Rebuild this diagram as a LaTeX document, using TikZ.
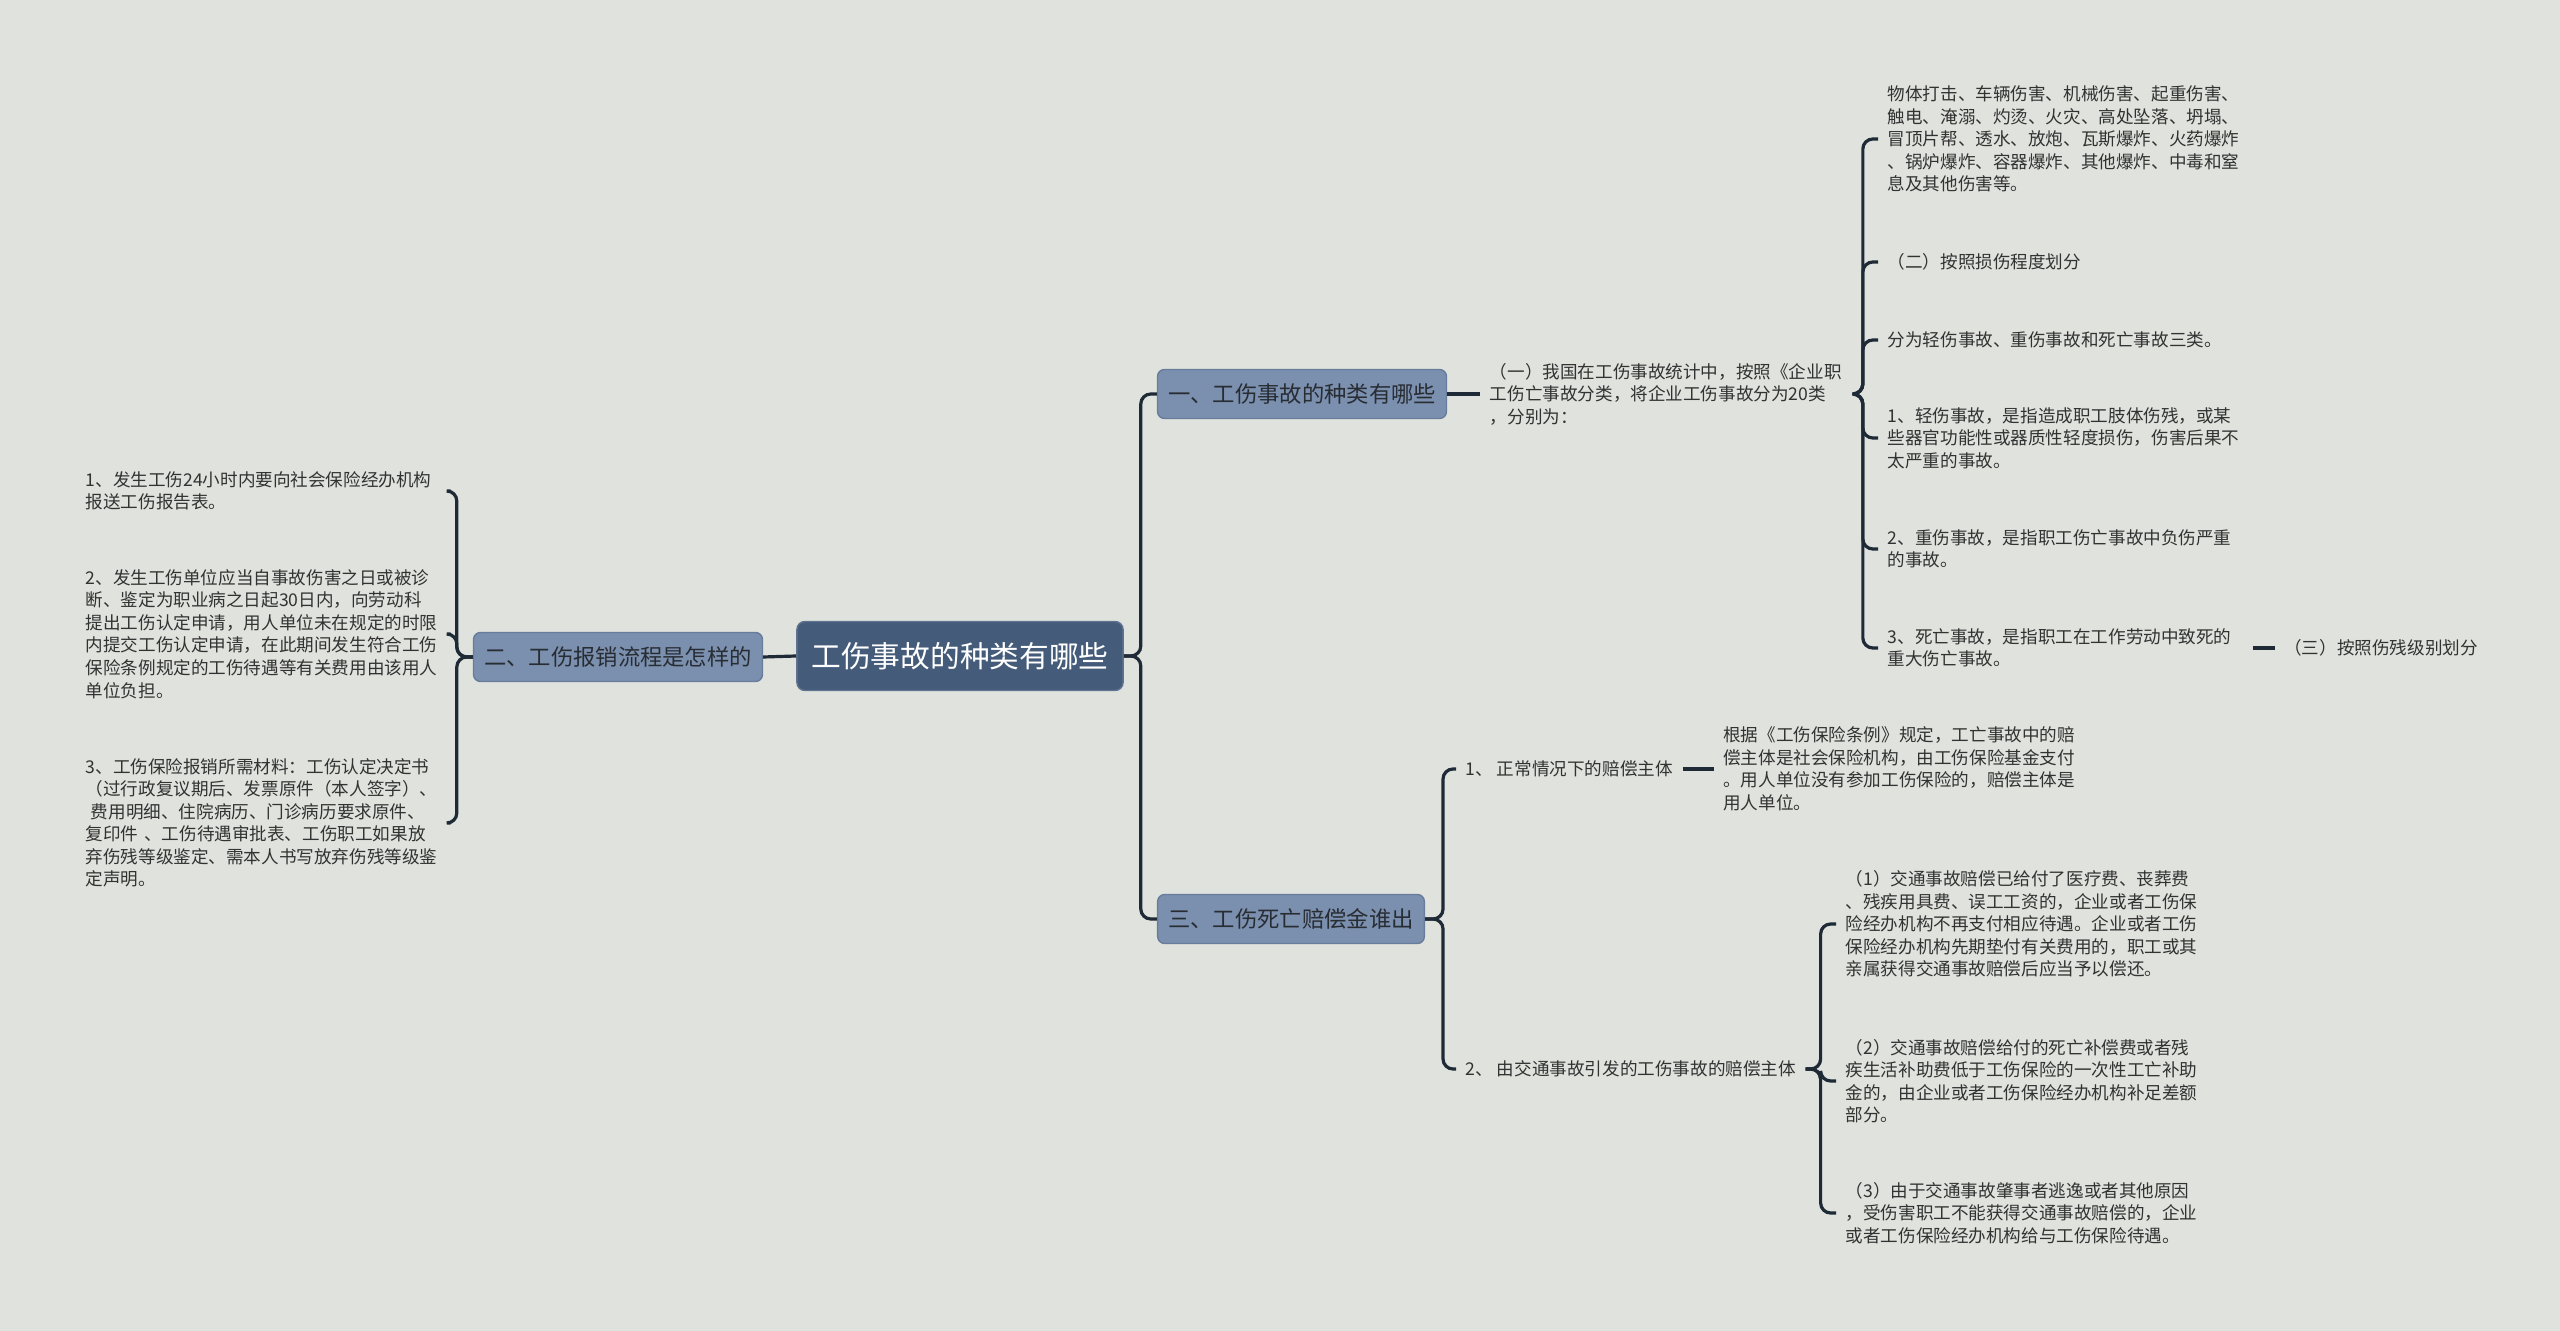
\documentclass[tikz,border=0pt]{standalone}
\usepackage{fontspec}
\setmainfont{Noto Sans CJK SC}
\usepackage{tikz}
\usetikzlibrary{positioning}

\definecolor{bgcol}{RGB}{224,226,221}
\definecolor{rootfill}{RGB}{68,91,122}
\definecolor{rootline}{RGB}{96,116,146}
\definecolor{branchfill}{RGB}{123,143,174}
\definecolor{branchline}{RGB}{104,124,156}
\definecolor{branchtext}{RGB}{40,45,52}
\definecolor{leaftext}{RGB}{50,50,50}
\definecolor{linecol}{RGB}{30,42,54}

\begin{document}
\begin{tikzpicture}[x=0.01cm, y=-0.01cm,
    topic/.style={draw=rootline, fill=rootfill, rounded corners=0.08cm, text=white, inner xsep=0.145cm, minimum height=0.69cm, font=\fontsize{8.45}{10}\selectfont},
    branch/.style={draw=branchline, fill=branchfill, rounded corners=0.07cm, text=branchtext, inner xsep=0.105cm, minimum height=0.49cm, font=\fontsize{6.35}{8}\selectfont},
    leaf/.style={text=leaftext, inner sep=0.09cm, text width=3.55cm, align=left, anchor=west, font=\fontsize{5}{6.4}\selectfont},
    tag/.style={text=leaftext, inner sep=0.09cm, anchor=west, font=\fontsize{5}{6.4}\selectfont},
    link/.style={draw=linecol, line width=0.032cm, rounded corners=0.1cm}]

    \fill[bgcol] (0,0) rectangle (2560,1331);
    \useasboundingbox (0,0) rectangle (2560,1331);

    % Central topic and the three branches
    \node (root) [topic] at (960,656) {工伤事故的种类有哪些};
    \node (kinds) [branch] at (1302,394) {一、工伤事故的种类有哪些};
    \node (claim) [branch] at (618,657) {二、工伤报销流程是怎样的};
    \node (payer) [branch] at (1291,919) {三、工伤死亡赔偿金谁出};

    % Left side: claim procedure
    \node (claimA) [leaf] at (76,491) {1、发生工伤24小时内要向社会保险经办机构\\报送工伤报告表。};
    \node (claimB) [leaf] at (76,634) {2、发生工伤单位应当自事故伤害之日或被诊\\断、鉴定为职业病之日起30日内，向劳动科\\提出工伤认定申请，用人单位未在规定的时限\\内提交工伤认定申请，在此期间发生符合工伤\\保险条例规定的工伤待遇等有关费用由该用人\\单位负担。};
    \node (claimC) [leaf] at (76,823) {3、工伤保险报销所需材料：工伤认定决定书\\（过行政复议期后、发票原件（本人签字）、\\\hspace*{0.3em}费用明细、住院病历、门诊病历要求原件、\\复印件 、工伤待遇审批表、工伤职工如果放\\弃伤残等级鉴定、需本人书写放弃伤残等级鉴\\定声明。};

    % Right side: kinds of accidents
    \node (stat) [leaf, right=0.33cm of kinds] {（一）我国在工伤事故统计中，按照《企业职\\工伤亡事故分类，将企业工伤事故分为20类\\，分别为：};
    \node (kindA) [leaf] at (1878,139) {物体打击、车辆伤害、机械伤害、起重伤害、\\触电、淹溺、灼烫、火灾、高处坠落、坍塌、\\冒顶片帮、透水、放炮、瓦斯爆炸、火药爆炸\\、锅炉爆炸、容器爆炸、其他爆炸、中毒和窒\\息及其他伤害等。};
    \node (kindB) [leaf] at (1878,262) {（二）按照损伤程度划分};
    \node (kindC) [leaf] at (1878,340) {分为轻伤事故、重伤事故和死亡事故三类。};
    \node (kindD) [leaf] at (1878,438) {1、轻伤事故，是指造成职工肢体伤残，或某\\些器官功能性或器质性轻度损伤，伤害后果不\\太严重的事故。};
    \node (kindE) [leaf] at (1878,549) {2、重伤事故，是指职工伤亡事故中负伤严重\\的事故。};
    \node (kindF) [leaf] at (1878,648) {3、死亡事故，是指职工在工作劳动中致死的\\重大伤亡事故。};
    \node (kindG) [tag, right=0.22cm of kindF] {（三）按照伤残级别划分};

    % Right side: who pays
    \node (normal) [tag] at (1456,769) {1、 正常情况下的赔偿主体};
    \node (normalA) [leaf, right=0.31cm of normal] {根据《工伤保险条例》规定，工亡事故中的赔\\偿主体是社会保险机构，由工伤保险基金支付\\。用人单位没有参加工伤保险的，赔偿主体是\\用人单位。};
    \node (traffic) [tag] at (1456,1069) {2、 由交通事故引发的工伤事故的赔偿主体};
    \node (trafficA) [leaf] at (1836,924) {（1）交通事故赔偿已给付了医疗费、丧葬费\\、残疾用具费、误工工资的，企业或者工伤保\\险经办机构不再支付相应待遇。企业或者工伤\\保险经办机构先期垫付有关费用的，职工或其\\亲属获得交通事故赔偿后应当予以偿还。};
    \node (trafficB) [leaf] at (1836,1081) {（2）交通事故赔偿给付的死亡补偿费或者残\\疾生活补助费低于工伤保险的一次性工亡补助\\金的，由企业或者工伤保险经办机构补足差额\\部分。};
    \node (trafficC) [leaf] at (1836,1213) {（3）由于交通事故肇事者逃逸或者其他原因\\，受伤害职工不能获得交通事故赔偿的，企业\\或者工伤保险经办机构给与工伤保险待遇。};

    % Connectors
    \draw[link] (root.east) -- ++(17,0) |- (kinds.west);
    \draw[link] (root.east) -- ++(17,0) |- (payer.west);
    \draw[link] (root.west) -- (claim.east);

    \foreach \n in {claimA, claimB, claimC}
        \draw[link] (claim.west) -- ++(-16,0) |- (\n.east);

    \draw[link] (kinds.east) -- (stat.west);
    \foreach \n in {kindA, kindB, kindC, kindD, kindE, kindF}
        \draw[link] (stat.east) -- ++(8,0) |- (\n.west);
    \draw[link] (kindF.east) -- (kindG.west);

    \foreach \n in {normal, traffic}
        \draw[link] (payer.east) -- ++(18,0) |- (\n.west);
    \draw[link] (normal.east) -- (normalA.west);
    \foreach \n in {trafficA, trafficB, trafficC}
        \draw[link] (traffic.east) -- ++(15,0) |- (\n.west);

\end{tikzpicture}
\end{document}
